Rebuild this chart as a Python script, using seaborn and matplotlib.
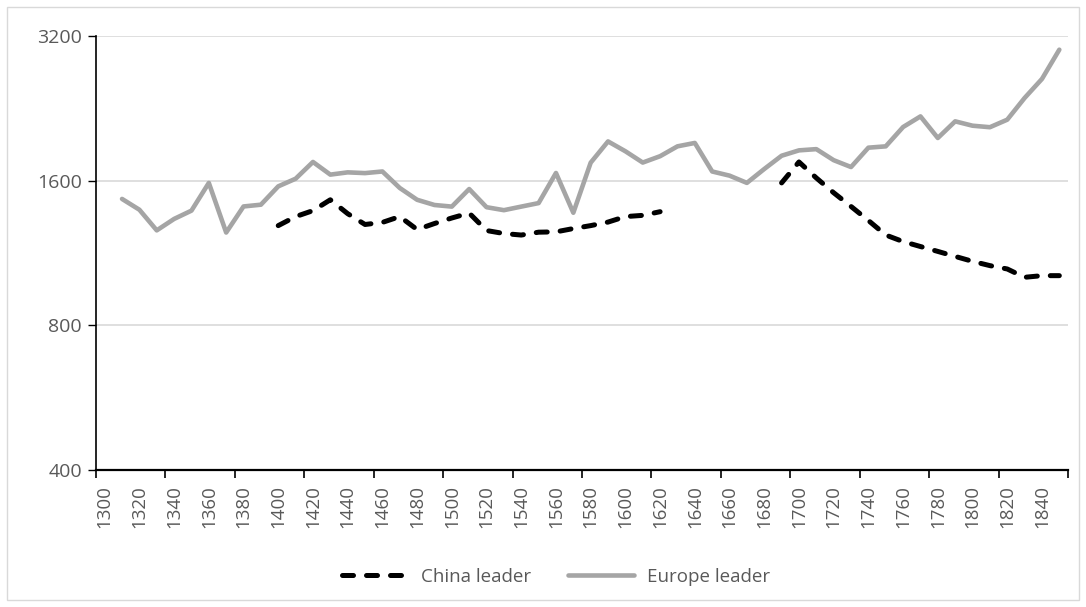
import numpy as np
import pandas as pd
import matplotlib
matplotlib.use("Agg")
import matplotlib.pyplot as plt
from matplotlib.patches import Rectangle
from matplotlib.lines import Line2D
import seaborn as sns

# values (log scale)
years = list(range(1310, 1851, 10))
europe = [1466, 1392, 1261, 1332, 1386, 1583, 1248, 1414, 1426, 1557,
          1615, 1750, 1647, 1665, 1659, 1672, 1545, 1460, 1424, 1413,
          1537, 1409, 1389, 1413, 1437, 1660, 1372, 1744, 1931, 1842,
          1745, 1799, 1886, 1917, 1672, 1639, 1583, 1692, 1803, 1850,
          1861, 1765, 1708, 1874, 1886, 2069, 2177, 1963, 2126, 2082,
          2067, 2143, 2378, 2605, 2997]
china_years_a = list(range(1400, 1621, 10))
china_a = [1290, 1347, 1386, 1460, 1366, 1297, 1310, 1347, 1266, 1303,
           1338, 1370, 1260, 1242, 1233, 1250, 1252, 1272, 1290, 1312,
           1347, 1355, 1379]
china_years_b = list(range(1690, 1851, 10))
china_b = [1583, 1750, 1621, 1510, 1414, 1322, 1233, 1195, 1167, 1140,
           1113, 1087, 1065, 1048, 1007, 1015, 1015]
yticks = [400, 800, 1600, 3200]
xlabels = list(range(1300, 1841, 20))

df = pd.concat([
    pd.DataFrame({"year": china_years_a, "value": china_a, "series": "China leader", "seg": "c1"}),
    pd.DataFrame({"year": china_years_b, "value": china_b, "series": "China leader", "seg": "c2"}),
    pd.DataFrame({"year": years, "value": europe, "series": "Europe leader", "seg": "e1"}),
])

sns.set_theme(style="white")
plt.rcParams["font.family"] = ["Open Sans", "DejaVu Sans"]
txt = "#595959"
dash = (2.2, 2.6)

fig = plt.figure(figsize=(10.86, 6.07), dpi=100)
ax = fig.add_axes([96/1086, 1-470/607, (1068-96)/1086, (470-36)/607])

sns.lineplot(data=df, x="year", y="value", hue="series", style="series",
             units="seg", estimator=None, ax=ax,
             palette={"China leader": "black", "Europe leader": "#a5a5a5"},
             dashes={"China leader": dash, "Europe leader": ""},
             legend=False, sort=False)
for ln in ax.lines:
    ln.set_solid_capstyle("round")
    ln.set_dash_capstyle("round")
    ln.set_solid_joinstyle("round")
    if ln.get_linestyle() != "-":
        ln.set_linewidth(3.6)
    else:
        ln.set_linewidth(3.3)

ax.set_yscale("log", base=2)
ax.set_ylim(400, 3200)
ax.set_yticks(yticks)
ax.set_yticklabels([str(v) for v in yticks], fontsize=14)
ax.yaxis.set_minor_locator(matplotlib.ticker.NullLocator())
ax.set_xlim(1295, 1855)
ax.set_xticks(np.arange(1295, 1856, 40))
ax.set_xticklabels([])
ax.set_xticks(xlabels, minor=True)
ax.set_xticklabels([str(v) for v in xlabels], minor=True, rotation=90, fontsize=13.5)
ax.tick_params(axis="x", which="major", direction="out", length=6, width=1.2,
               color="black", bottom=True)
ax.tick_params(axis="x", which="minor", length=0, pad=11, labelcolor=txt)
ax.tick_params(axis="y", which="major", direction="out", length=6, width=1,
               color="black", left=True, pad=4, labelcolor=txt)
ax.grid(axis="y", color="#d9d9d9", linewidth=1.2)
ax.grid(axis="x", visible=False)
ax.set_axisbelow(True)
for s in ["top", "right"]:
    ax.spines[s].set_visible(False)
ax.spines["left"].set_color("black")
ax.spines["left"].set_linewidth(1.2)
ax.spines["bottom"].set_color("black")
ax.spines["bottom"].set_linewidth(1.6)
ax.set_xlabel("")
ax.set_ylabel("")

h1 = Line2D([], [], color="black", lw=3.6, linestyle=(0, dash),
            dash_capstyle="round")
h2 = Line2D([], [], color="#a5a5a5", lw=3.3, solid_capstyle="round")
fig.legend([h1, h2], ["China leader", "Europe leader"], loc="center",
           bbox_to_anchor=(0.512, 0.05), ncol=2, frameon=False,
           handlelength=3.5, columnspacing=2.0, handletextpad=0.7,
           labelcolor=txt, fontsize=13.5)

fig.patches.append(Rectangle((7/1086, 7/607), 1-14/1086, 1-14/607,
                             transform=fig.transFigure, fill=False,
                             edgecolor="#d9d9d9", linewidth=1))

fig.savefig("out.png", dpi=100)
